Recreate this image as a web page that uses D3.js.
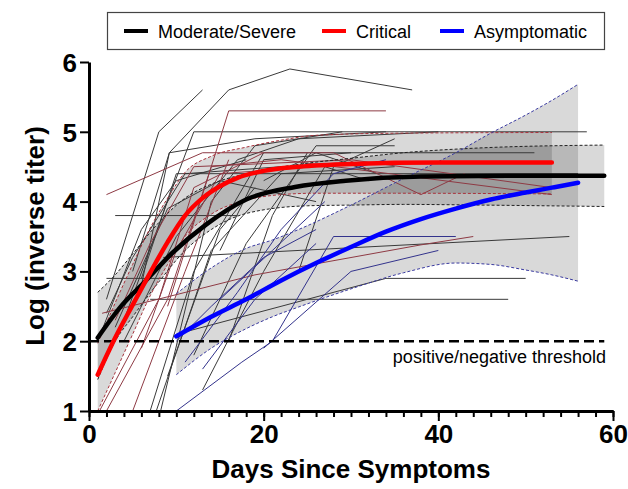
<!DOCTYPE html>
<html>
<head>
<meta charset="utf-8">
<script src="https://cdn.jsdelivr.net/npm/d3@7"></script>
<style>
  body { margin: 0; background: #fff; }
  svg text { font-family: "Liberation Sans", Arial, Helvetica, sans-serif; }
</style>
</head>
<body>
<div id="chart"></div>
<script>
// fitted curves (day, log titer)
const fitModerate = [[1,2.05],[3.8,2.52],[6.3,2.84],[9.5,3.26],[13.4,3.67],[18,4.03],[23.6,4.21],[29.4,4.3],[38,4.36],[48,4.37],[59,4.37]];
const fitCritical = [[1,1.52],[3,2.05],[5,2.52],[7,2.98],[9,3.42],[11,3.8],[13,4.05],[15,4.22],[17,4.34],[20,4.44],[24,4.5],[30,4.54],[40,4.56],[53,4.56]];
const fitAsymp = [[10,2.07],[14,2.35],[18,2.6],[22,2.87],[26,3.12],[30,3.35],[34,3.57],[38,3.75],[42,3.9],[46,4.03],[50,4.13],[53,4.2],[56,4.27]];

// confidence bands: [day, lower, upper]
const bandModerate = [[1,1.45,2.7],[3,2.0,2.95],[5,2.35,3.25],[8,2.85,3.7],[11,3.3,4.05],[14,3.6,4.25],[18,3.83,4.4],[25,3.94,4.55],[30,3.95,4.62],[36,3.96,4.7],[45,3.95,4.77],[59,3.93,4.81]];
const bandCritical = [[1,1.0,1.97],[3,1.55,2.55],[5,2.1,3.1],[7,2.65,3.62],[9,3.1,4.05],[11,3.5,4.42],[14,3.82,4.65],[18,4.02,4.78],[22,4.1,4.88],[26,4.12,4.95],[35,4.12,4.98],[53,4.11,4.99]];
const bandAsymp = [[10,1.52,2.68],[14,1.9,3.05],[18,2.18,3.33],[21,2.35,3.45],[24,2.49,3.6],[30,2.75,3.95],[36,2.98,4.33],[42,3.12,4.7],[46,3.1,4.98],[50,3.02,5.24],[53,2.95,5.45],[56,2.86,5.68]];

// individual subjects
const subjModerate = [
  [[2,2.6],[8,5.0],[13,5.6]],
  [[6,2.8],[9.2,4.7],[16,5.6],[23,5.9],[37,5.6]],
  [[4,2.3],[8.8,3.94],[12,5.0],[57,5.0]],
  [[5,3.0],[9.2,4.7],[19,4.9],[34,5.0]],
  [[3,3.8],[17,3.8]],
  [[2,2.9],[12,2.9]],
  [[8.5,3.2],[55,3.5]],
  [[7,2.6],[48,2.6]],
  [[10,2.1],[34,2.9],[50,2.9]],
  [[6,2.9],[10,4.4],[56,4.4]],
  [[15,3.3],[20,4.6],[30,4.7],[51,4.7]],
  [[7,1.0],[12,3.0],[20,4.7],[30,4.7]],
  [[7.7,1.0],[14,3.3],[22,4.4],[35,4.5]],
  [[4,2.0],[10,3.5],[17,4.6],[24,4.9],[40,5.0]],
  [[3,2.2],[9,3.9],[15,4.3],[26,4.0]],
  [[12,1.8],[18,3.4],[26,4.8],[35,4.8]],
  [[16,2.0],[21,3.8],[25,4.7]],
  [[13,1.3],[20,3.0],[27,4.5],[32,4.3]],
  [[1,2.0],[6,3.6],[10,4.3],[18,4.6]],
  [[2,2.4],[5,3.2],[11,4.4],[22,4.5]],
  [[8.2,1.0],[14,4.0],[19,4.8],[29,5.0]],
  [[24,3.0],[28,4.5],[35,4.9]],
  [[20,4.3],[26,4.7],[33,4.4]],
  [[9,1.5],[15,3.6],[19,4.2]]
];
const subjCritical = [
  [[9,2.5],[16,5.3],[34,5.3]],
  [[2,4.1],[13,4.7],[28,4.7],[38,4.1],[43,4.4]],
  [[1.2,1.0],[8,2.6],[12,4.2],[20,4.7]],
  [[2,1.0],[9,2.6],[14,4.5],[22,4.6],[53,4.1]],
  [[5,1.0],[11,3.0],[16,4.6]],
  [[1.5,2.4],[19,2.95],[38,3.38],[44,3.5]],
  [[3,2.3],[7,3.4],[12,4.5],[30,4.6],[53,4.2]],
  [[6,1.9],[10,3.3],[15,4.4],[26,4.5]]
];
const subjAsymp = [
  [[10,1.0],[17.5,1.7],[21,2.0],[28,3.5],[42,3.5]],
  [[10,2.0],[14,2.5],[20,3.2],[26,3.6]],
  [[11,1.7],[17,2.7],[22,3.6],[28,4.4],[34,4.6]],
  [[13,1.6],[19,2.6],[26,3.4]],
  [[15,2.6],[21,3.3],[27,4.0]],
  [[20,1.9],[30,3.0],[40,3.3]]
];

const xTicks = [0, 20, 40, 60];
const yTicks = [1, 2, 3, 4, 5, 6];
const threshold = 2;

const groups = [
  {name: "Moderate/Severe", fit: fitModerate, band: bandModerate, subj: subjModerate, fitColor: "#000000", thin: "#3a3a3a", dash: "#222222"},
  {name: "Critical", fit: fitCritical, band: bandCritical, subj: subjCritical, fitColor: "#ff0000", thin: "#8e3a44", dash: "#a8323c"},
  {name: "Asymptomatic", fit: fitAsymp, band: bandAsymp, subj: subjAsymp, fitColor: "#0000ff", thin: "#33338c", dash: "#3a3aa0"}
];

const W = 628, H = 489;
const svg = d3.select("#chart").append("svg").attr("width", W).attr("height", H);

const x = d3.scaleLinear().domain([0, 60]).range([89, 613]);
const y = d3.scaleLinear().domain([1, 6]).range([411, 62]);

const line = d3.line().x(d => x(d[0])).y(d => y(d[1]));
const curve = d3.line().x(d => x(d[0])).y(d => y(d[1])).curve(d3.curveMonotoneX);
const area = d3.area().x(d => x(d[0])).y0(d => y(d[1])).y1(d => y(d[2])).curve(d3.curveMonotoneX);

// bands
groups.forEach(g => {
  svg.append("path").attr("d", area(g.band))
    .attr("fill", "#000").attr("fill-opacity", 0.15);
});

// individual lines
groups.forEach(g => {
  svg.append("g").selectAll("path").data(g.subj).join("path")
    .attr("d", line)
    .attr("fill", "none").attr("stroke", g.thin).attr("stroke-width", 1);
});

// band borders
groups.forEach(g => {
  [1, 2].forEach(k => {
    svg.append("path")
      .attr("d", curve(g.band.map(d => [d[0], d[k]])))
      .attr("fill", "none").attr("stroke", g.dash)
      .attr("stroke-width", 1).attr("stroke-dasharray", "3,2");
  });
});

// threshold
svg.append("line")
  .attr("x1", x(0)).attr("x2", x(59))
  .attr("y1", y(threshold)).attr("y2", y(threshold))
  .attr("stroke", "#000").attr("stroke-width", 2.5).attr("stroke-dasharray", "10,5");
svg.append("text").attr("x", 606).attr("y", 363)
  .attr("text-anchor", "end").attr("font-size", 18)
  .text("positive/negative threshold");

// fits
groups.forEach(g => {
  svg.append("path").attr("d", curve(g.fit))
    .attr("fill", "none").attr("stroke", g.fitColor)
    .attr("stroke-width", 4.5).attr("stroke-linecap", "round");
});

// axes
const yAxis = svg.append("g").attr("transform", "translate(89,0)")
  .call(d3.axisLeft(y).tickValues(yTicks).tickFormat(d3.format("d")).tickSize(9).tickSizeOuter(0).tickPadding(3));
const xMinor = svg.append("g").attr("transform", "translate(0,411)")
  .call(d3.axisBottom(x).tickValues(d3.range(0, 61, 2)).tickFormat("").tickSize(6).tickSizeOuter(0));
const xAxis = svg.append("g").attr("transform", "translate(0,411)")
  .call(d3.axisBottom(x).tickValues(xTicks).tickFormat(d3.format("d")).tickSize(10).tickSizeOuter(0).tickPadding(4));

[yAxis, xAxis, xMinor].forEach(a => {
  a.select(".domain").attr("stroke", "#000").attr("stroke-width", 3);
  a.selectAll(".tick line").attr("stroke", "#000").attr("stroke-width", 2);
  a.selectAll(".tick text").attr("font-size", 26).attr("font-weight", "bold")
    .attr("fill", "#000").style("font-family", "'Liberation Sans', Arial, sans-serif");
});
yAxis.selectAll(".tick text").attr("dy", "0.36em");

// axis titles
svg.append("text").attr("x", 351).attr("y", 478)
  .attr("text-anchor", "middle").attr("font-size", 26).attr("font-weight", "bold")
  .text("Days Since Symptoms");
svg.append("text").attr("transform", "translate(44,236) rotate(-90)")
  .attr("text-anchor", "middle").attr("font-size", 26).attr("font-weight", "bold")
  .text("Log (inverse titer)");

// legend
const legend = svg.append("g");
legend.append("rect").attr("x", 107.5).attr("y", 12.5).attr("width", 497).attr("height", 37)
  .attr("fill", "#fff").attr("stroke", "#444").attr("stroke-width", 1.2);
const legendX = [124, 322, 440];
groups.forEach((g, i) => {
  legend.append("line").attr("x1", legendX[i]).attr("x2", legendX[i] + 24)
    .attr("y1", 31).attr("y2", 31).attr("stroke", g.fitColor).attr("stroke-width", 4);
  legend.append("text").attr("x", legendX[i] + 34).attr("y", 37.5)
    .attr("font-size", 18).text(g.name);
});
</script>
</body>
</html>
